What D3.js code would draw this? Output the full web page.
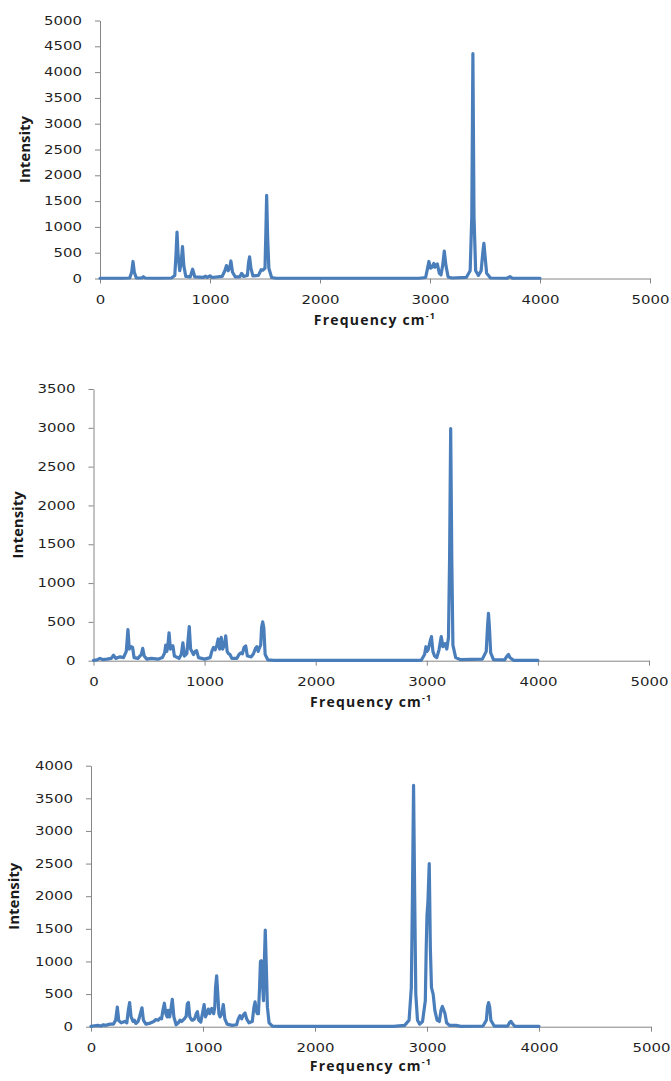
<!DOCTYPE html>
<html><head><meta charset="utf-8">
<script src="https://cdn.jsdelivr.net/npm/d3@7"></script>
<style>
html,body{margin:0;padding:0;background:#fff;}
svg{display:block;}
</style></head>
<body>
<svg id="c" width="671" height="1081"></svg>
<script>
// ---- data ----
const xTicks = [0, 1000, 2000, 3000, 4000, 5000];
const yTicks1 = [0,500,1000,1500,2000,2500,3000,3500,4000,4500,5000];
const yTicks2 = [0,500,1000,1500,2000,2500,3000,3500];
const yTicks3 = [0,500,1000,1500,2000,2500,3000,3500,4000];
const xLabel = "Frequency cm";
const xLabelSup = "-1";
const yLabel = "Intensity";

const freq1 = [0,200,270,288,300,312,330,380,394,410,500,650,680,692,700,710,725,738,750,762,780,820,842,862,940,960,975,1000,1020,1110,1135,1150,1165,1178,1190,1205,1230,1270,1288,1305,1340,1350,1360,1372,1390,1440,1465,1480,1500,1508,1515,1524,1535,1560,1600,2900,2960,2978,2990,3005,3020,3035,3045,3055,3067,3085,3100,3115,3130,3145,3165,3200,3330,3365,3380,3390,3400,3415,3440,3465,3480,3490,3500,3515,3550,3700,3727,3750,4000];
const int1  = [5,5,10,120,330,120,10,10,35,10,5,10,60,500,900,450,150,300,620,250,40,30,180,30,20,45,20,50,20,40,150,250,150,200,340,120,30,30,100,40,60,300,420,200,50,60,170,160,200,900,1610,800,200,20,5,5,20,200,330,200,220,290,220,260,280,100,70,250,530,250,30,10,20,150,1200,4360,1200,150,60,150,500,680,450,100,10,5,35,5,5];

const freq2 = [0,30,58,80,120,160,180,200,240,270,295,310,322,340,352,365,400,430,443,456,480,520,580,620,640,650,660,670,680,692,705,715,728,770,790,805,818,840,850,862,874,900,915,928,945,1000,1050,1065,1080,1095,1110,1122,1135,1150,1162,1178,1190,1203,1215,1228,1245,1290,1310,1325,1340,1355,1370,1385,1420,1440,1458,1470,1482,1495,1505,1513,1523,1533,1545,1570,1620,2950,2980,2992,3002,3012,3030,3042,3055,3070,3090,3110,3130,3145,3155,3165,3180,3195,3205,3215,3225,3235,3260,3300,3500,3535,3547,3555,3563,3575,3600,3700,3722,3735,3748,3780,4000];
const int2  = [5,10,30,15,20,30,70,30,50,40,120,400,150,180,170,40,30,80,160,60,20,30,20,40,100,200,120,200,360,150,190,190,60,30,80,230,60,90,250,440,150,80,120,130,40,20,40,120,170,140,200,280,150,300,150,200,320,120,90,80,30,30,80,100,90,170,190,60,50,90,160,180,120,170,200,430,500,420,80,10,5,5,80,180,120,140,250,310,120,60,40,140,310,180,210,220,150,300,1300,2990,1300,200,40,15,20,120,450,610,450,100,15,10,60,80,40,5,5];

const freq3 = [0,30,60,90,110,130,170,200,220,235,248,270,300,320,333,345,358,375,387,400,420,433,455,468,490,520,560,580,600,615,630,642,655,668,680,690,702,712,726,740,760,780,795,810,833,850,860,870,882,900,908,925,940,950,962,980,995,1010,1022,1035,1048,1060,1078,1095,1105,1112,1122,1132,1142,1152,1168,1181,1195,1215,1260,1300,1315,1330,1345,1360,1375,1390,1410,1440,1455,1465,1475,1485,1495,1505,1513,1520,1530,1540,1548,1556,1564,1575,1590,1620,1680,2700,2800,2840,2860,2870,2880,2890,2900,2915,2935,2960,2985,2993,3000,3008,3020,3030,3040,3055,3070,3090,3110,3125,3137,3150,3161,3175,3200,3260,3300,3500,3530,3540,3550,3560,3570,3600,3720,3740,3750,3762,3785,4000];
const int3  = [5,15,20,10,30,20,40,40,100,300,90,60,80,60,250,370,150,80,100,50,80,150,290,100,40,50,80,110,100,130,120,250,360,200,150,250,150,250,420,150,30,60,100,80,120,160,350,370,150,100,100,120,200,230,100,70,200,340,150,200,270,200,280,200,300,600,780,500,200,150,200,340,120,40,20,30,120,170,120,180,210,120,60,80,300,380,250,200,200,600,1000,1010,700,400,1000,1480,1000,300,60,10,5,5,20,100,600,2000,3700,2000,500,100,40,80,400,1200,1710,1900,2500,1200,600,500,250,100,80,250,310,250,200,60,20,20,5,10,100,300,370,300,100,10,10,70,80,50,5,5];

// ---- layout ----
const charts = [
  {freq: freq1, inten: int1, yTicks: yTicks1, yMax: 5000, x0: 100, x1: 650, yTop: 20.5, yBot: 278.5, yLabX: 25, xLabBase: 325},
  {freq: freq2, inten: int2, yTicks: yTicks2, yMax: 3500, x0: 93.5, x1: 649, yTop: 389, yBot: 660.7, yLabX: 18, xLabBase: 707},
  {freq: freq3, inten: int3, yTicks: yTicks3, yMax: 4000, x0: 91, x1: 651, yTop: 765.7, yBot: 1026.7, yLabX: 13.5, xLabBase: 1071}
];

const svg = d3.select("#c");
const lineColor = "#4a7ebb";
const axisColor = "#868686";
const SX = 1.3;
const fmt = d3.format("d");

charts.forEach(c => {
  const x = d3.scaleLinear().domain([0, 5000]).range([c.x0, c.x1]);
  const y = d3.scaleLinear().domain([0, c.yMax]).range([c.yBot, c.yTop]);
  const g = svg.append("g");

  // y axis
  const ya = g.append("g").attr("transform", `translate(${c.x0},0)`)
    .call(d3.axisLeft(y).tickValues(c.yTicks).tickFormat(fmt).tickSize(5).tickSizeOuter(0).tickPadding(0));
  ya.select(".domain").attr("stroke", axisColor);
  ya.selectAll(".tick line").attr("stroke", axisColor);
  ya.selectAll("text")
    .attr("x", null)
    .attr("transform", `translate(-18,0) scale(${SX},1)`)
    .attr("font-family", "DejaVu Sans").attr("font-size", 11.5).attr("fill", "#1f1f1f");

  // x axis
  const xa = g.append("g").attr("transform", `translate(0,${c.yBot})`)
    .call(d3.axisBottom(x).tickValues(xTicks).tickFormat(fmt).tickSize(5).tickSizeOuter(0).tickPadding(0));
  xa.select(".domain").attr("stroke", axisColor);
  xa.selectAll(".tick line").attr("stroke", axisColor);
  xa.selectAll("text")
    .attr("y", null).attr("dy", null)
    .attr("transform", `translate(0,25) scale(${SX},1)`)
    .attr("font-family", "DejaVu Sans").attr("font-size", 11.5).attr("fill", "#1f1f1f");

  // spectrum
  const pts = c.freq.map((f, i) => [f, c.inten[i]]);
  g.append("path").datum(pts)
    .attr("fill", "none").attr("stroke", lineColor).attr("stroke-width", 3.2)
    .attr("stroke-linejoin", "round").attr("stroke-linecap", "round")
    .attr("d", d3.line().x(d => x(d[0])).y(d => y(d[1])));

  // axis titles
  const cx = (c.x0 + c.x1) / 2;
  const xt = g.append("text")
    .attr("transform", `translate(${cx},${c.xLabBase})`)
    .attr("text-anchor", "middle")
    .attr("font-family", "Open Sans").attr("font-weight", "bold").attr("font-size", 14)
    .attr("letter-spacing", 1.2).attr("fill", "#1a1a1a");
  xt.append("tspan").text(xLabel);
  xt.append("tspan").attr("font-size", 9).attr("dy", -6).text(xLabelSup);

  g.append("text")
    .attr("transform", `translate(${c.yLabX + 5},${(c.yTop + c.yBot) / 2}) rotate(-90)`)
    .attr("text-anchor", "middle")
    .attr("font-family", "Open Sans").attr("font-weight", "bold").attr("font-size", 15)
    .attr("fill", "#1a1a1a").text(yLabel);
});
</script>
</body></html>
